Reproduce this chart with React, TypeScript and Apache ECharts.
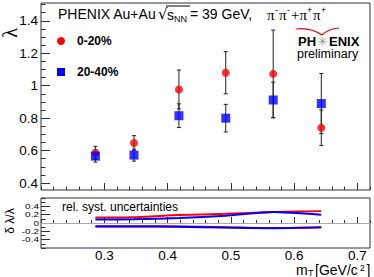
import React, { useEffect, useRef } from "react";
import * as echarts from "echarts";

const mT = [0.286, 0.347, 0.418, 0.492, 0.567, 0.643];
const lambda020 = [0.586, 0.647, 0.977, 1.08, 1.073, 0.741];
const err020 = [0.04, 0.045, 0.12, 0.13, 0.27, 0.11];
const lambda2040 = [0.566, 0.572, 0.815, 0.8, 0.912, 0.89];
const err2040 = [0.037, 0.037, 0.073, 0.085, 0.11, 0.185];

const systRedUp = [0.135, 0.14, 0.19, 0.22, 0.265, 0.285];
const systBlueUp = [0.085, 0.09, 0.12, 0.175, 0.265, 0.2];
const systRedLow = [-0.08, -0.075, -0.085, -0.1, -0.12, -0.1];
const systBlueLow = [-0.085, -0.085, -0.09, -0.11, -0.125, -0.105];

const xTickLabels = [0.3, 0.4, 0.5, 0.6, 0.7];
const yTopTickLabels = [0.4, 0.6, 0.8, 1, 1.2, 1.4];
const yBotTickLabels = [-0.4, -0.2, 0, 0.2, 0.4];

const range = (a: number, b: number, s: number) => {
  const out: number[] = [];
  const n = Math.round((b - a) / s);
  for (let i = 0; i <= n; i++) out.push(+(a + i * s).toFixed(4));
  return out;
};
const xMinor = range(0.2, 0.72, 0.02);
const yTopMinor = range(0.4, 1.5, 0.05);
const yBotMinor = range(-0.6, 0.6, 0.1);

const FONT = '"Liberation Sans", Arial, Helvetica, sans-serif';
const SERIF = '"Liberation Serif", "Times New Roman", serif';
const TICK = "#333";

const errSeries = (vals: number[], errs: number[]) => ({
  type: "custom",
  xAxisIndex: 0,
  yAxisIndex: 0,
  silent: true,
  data: mT.map((x, i) => [x, vals[i] - errs[i], vals[i] + errs[i]]),
  encode: { x: 0, y: [1, 2] },
  renderItem: (_p: any, api: any) => {
    const x = api.value(0);
    const lo = api.coord([x, api.value(1)]);
    const hi = api.coord([x, api.value(2)]);
    const st = { stroke: "#222", lineWidth: 1 };
    return {
      type: "group",
      children: [
        { type: "line", shape: { x1: lo[0], y1: lo[1], x2: hi[0], y2: hi[1] }, style: st },
        { type: "line", shape: { x1: lo[0] - 2, y1: lo[1], x2: lo[0] + 2, y2: lo[1] }, style: st },
        { type: "line", shape: { x1: hi[0] - 2, y1: hi[1], x2: hi[0] + 2, y2: hi[1] }, style: st },
      ],
    };
  },
});

const systLine = (vals: number[], color: string, extra: any = {}) => ({
  type: "line",
  xAxisIndex: 2,
  yAxisIndex: 2,
  showSymbol: false,
  silent: true,
  smooth: 0.2,
  data: mT.map((x, i) => [x, vals[i]]),
  lineStyle: { color, width: 2 },
  ...extra,
});

const txt = (x: number, y: number, text: string, size: number, extra: any = {}) => ({
  type: "text",
  x,
  y,
  style: { text, fontSize: size, fontFamily: FONT, fill: "#000", verticalAlign: "middle", ...extra },
});

export default function App() {
  const ref = useRef<HTMLDivElement>(null);
  useEffect(() => {
    if (!ref.current) return;
    const chart = echarts.init(ref.current, null, { renderer: "svg" });
    const fmt = (v: number) => String(+v.toFixed(2));
    const option: any = {
      animation: false,
      backgroundColor: "#fff",
      grid: [
        { left: 41, top: 3, width: 329, height: 187, show: true, borderColor: "#333", borderWidth: 1 },
        { left: 41, top: 198, width: 329, height: 50, show: true, borderColor: "#333", borderWidth: 1 },
      ],
      xAxis: [
        {
          gridIndex: 0, type: "value", min: 0.2, max: 0.72, position: "bottom",
          axisLine: { show: false }, axisLabel: { show: false }, splitLine: { show: false },
          axisTick: { inside: true, length: 7, customValues: xTickLabels, lineStyle: { color: TICK } },
        },
        {
          gridIndex: 0, type: "value", min: 0.2, max: 0.72, position: "bottom",
          axisLine: { show: false }, axisLabel: { show: false }, splitLine: { show: false },
          axisTick: { inside: true, length: 3.5, customValues: xMinor, lineStyle: { color: TICK } },
        },
        {
          gridIndex: 1, type: "value", min: 0.2, max: 0.72, position: "bottom",
          axisLine: { show: false }, splitLine: { show: false },
          axisTick: { inside: true, length: 6, customValues: xTickLabels, lineStyle: { color: TICK } },
          axisLabel: {
            customValues: xTickLabels, formatter: fmt, fontSize: 13.5, fontFamily: FONT,
            color: "#000", margin: 2, lineHeight: 11,
          },
        },
        {
          gridIndex: 1, type: "value", min: 0.2, max: 0.72, position: "bottom",
          axisLine: { show: false }, axisLabel: { show: false }, splitLine: { show: false },
          axisTick: { inside: true, length: 3, customValues: xMinor, lineStyle: { color: TICK } },
        },
      ],
      yAxis: [
        {
          gridIndex: 0, type: "value", min: 0.357, max: 1.51, position: "left",
          axisLine: { show: false }, splitLine: { show: false },
          axisTick: { inside: true, length: 9, customValues: yTopTickLabels, lineStyle: { color: TICK } },
          axisLabel: {
            customValues: yTopTickLabels, formatter: fmt, fontSize: 13.5, fontFamily: FONT,
            color: "#000", margin: 3,
          },
        },
        {
          gridIndex: 0, type: "value", min: 0.357, max: 1.51, position: "left",
          axisLine: { show: false }, axisLabel: { show: false }, splitLine: { show: false },
          axisTick: { inside: true, length: 4.5, customValues: yTopMinor, lineStyle: { color: TICK } },
        },
        {
          gridIndex: 1, type: "value", min: -0.6, max: 0.6, position: "left",
          axisLine: { show: false }, splitLine: { show: false }, axisLabel: { show: false },
          axisTick: { inside: true, length: 9, customValues: yBotTickLabels, lineStyle: { color: TICK } },
        },
        {
          gridIndex: 1, type: "value", min: -0.6, max: 0.6, position: "left",
          axisLine: { show: false }, splitLine: { show: false }, axisLabel: { show: false },
          axisTick: { inside: true, length: 4.5, customValues: yBotMinor, lineStyle: { color: TICK } },
        },
      ],
      series: [
        errSeries(lambda020, err020),
        errSeries(lambda2040, err2040),
        {
          type: "scatter", xAxisIndex: 0, yAxisIndex: 0, silent: true,
          symbol: "circle", symbolSize: 8,
          itemStyle: { color: "#ff0000" },
          data: mT.map((x, i) => [x, lambda020[i]]),
        },
        {
          type: "scatter", xAxisIndex: 0, yAxisIndex: 0, silent: true,
          symbol: "rect", symbolSize: 9,
          itemStyle: { color: "#0000ff" },
          data: mT.map((x, i) => [x, lambda2040[i]]),
        },
        systLine(systRedUp, "#ff0000", {
          markLine: {
            silent: true, symbol: "none", label: { show: false },
            lineStyle: { color: "#aaa", width: 1, type: "solid" },
            data: [{ yAxis: 0 }],
          },
        }),
        systLine(systBlueUp, "#0000ff"),
        systLine(systRedLow, "#ff0000"),
        systLine(systBlueLow, "#0000ff"),
      ],
      graphic: [
        {
          type: "text", x: 10, y: 33, rotation: Math.PI / 2,
          style: { text: "λ", fontSize: 20, fontFamily: SERIF, fill: "#000", align: "center", verticalAlign: "middle" },
        },
        {
          type: "text", x: 10, y: 221, rotation: Math.PI / 2,
          style: { text: "δ λ/λ", fontSize: 12, fontFamily: FONT, fill: "#000", align: "center", verticalAlign: "middle" },
        },
        // title
        txt(58, 14, "PHENIX Au+Au", 14),
        txt(158, 14, "√", 15, { fontFamily: '"DejaVu Sans", sans-serif' }),
        { type: "line", shape: { x1: 166, y1: 6, x2: 190, y2: 6 }, style: { stroke: "#000", lineWidth: 1 } },
        txt(167, 15, "s", 14),
        txt(174, 19, "NN", 9),
        txt(190, 14, "= 39 GeV,", 14),
        txt(267, 15, "π", 15, { fontFamily: SERIF }),
        txt(275, 10, "-", 9),
        txt(279, 15, "π", 15, { fontFamily: SERIF }),
        txt(287, 10, "-", 9),
        txt(291, 15, "+π", 15, { fontFamily: SERIF }),
        txt(307, 10, "+", 9),
        txt(313, 15, "π", 15, { fontFamily: SERIF }),
        txt(321, 10, "+", 9),
        // legend
        { type: "circle", shape: { cx: 61, cy: 41, r: 4 }, style: { fill: "#ff0000" } },
        txt(77, 41, "0-20%", 12, { fontWeight: "bold" }),
        { type: "rect", shape: { x: 57, y: 68, width: 8, height: 8 }, style: { fill: "#0000ff" } },
        txt(77, 72, "20-40%", 12, { fontWeight: "bold" }),
        // PHENIX logo
        txt(298, 41, "PH", 13, { fontWeight: "bold" }),
        txt(317, 41, "✳", 13, { fontFamily: '"DejaVu Sans", sans-serif', fill: "#999" }),
        txt(329, 41, "ENIX", 13, { fontWeight: "bold" }),
        txt(297, 54, "preliminary", 12.5),
        {
          type: "bezierCurve",
          shape: { x1: 296, y1: 29, cpx1: 310, cpy1: 27, x2: 322, y2: 35 },
          style: { stroke: "#e00", lineWidth: 1.2, fill: null },
        },
        {
          type: "bezierCurve",
          shape: { x1: 322, y1: 35, cpx1: 328, cpy1: 29, x2: 339, y2: 28 },
          style: { stroke: "#e00", lineWidth: 1.2, fill: null },
        },
        txt(62, 207, "rel. syst. uncertainties", 12),
        // x axis title
        txt(296, 270, "m", 14, { lineHeight: 10 }),
        txt(308, 272.5, "T", 9, { lineHeight: 7 }),
        txt(315, 270, "[GeV/c", 14, { lineHeight: 10 }),
        txt(360, 267.5, "2", 8.5, { lineHeight: 7 }),
        txt(366.5, 270, "]", 14, { lineHeight: 10 }),
      ],
    };
    chart.setOption(option);
    // bottom-panel y tick labels, placed through the library's own y scale
    const botLabels = yBotTickLabels.map((v, i) => {
      const py = chart.convertToPixel({ yAxisIndex: 2 }, v) as number;
      return {
        id: "ybot" + i,
        type: "text",
        x: 39,
        y: py,
        scaleY: 0.75,
        style: {
          text: fmt(v), fontSize: 10, fontFamily: FONT, fill: "#000",
          align: "right", verticalAlign: "middle", lineHeight: 9,
        },
      };
    });
    chart.setOption({ graphic: [...option.graphic, ...botLabels] });
    return () => chart.dispose();
  }, []);
  return (
    <div
      ref={ref}
      style={{ position: "fixed", left: 0, top: 0, width: 374, height: 277, background: "#fff" }}
    />
  );
}
